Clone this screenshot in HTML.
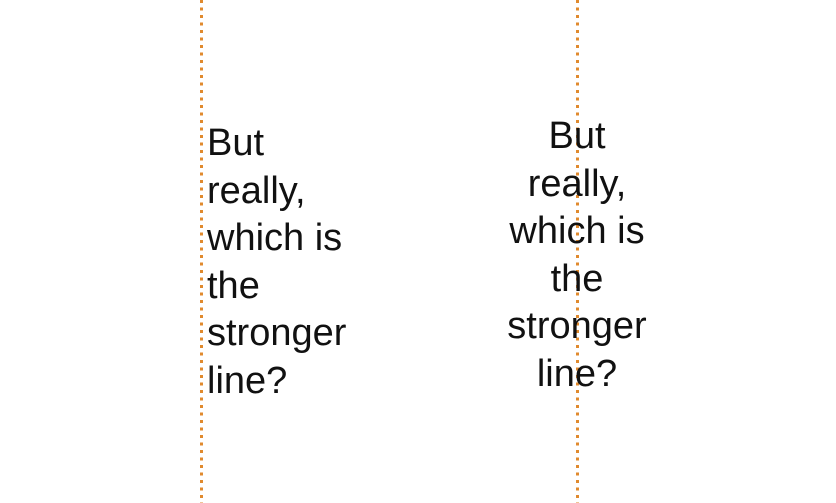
<!DOCTYPE html>
<html><head><meta charset="utf-8"><style>
body{margin:0;width:836px;height:503px;background:#fff;position:relative;overflow:hidden;font-family:"Liberation Sans",sans-serif;}
svg{position:absolute;left:0;top:0;}
.t{position:absolute;font-size:38px;line-height:47.5px;color:#111;}
</style></head><body>
<svg width="836" height="503">
<line x1="201.5" y1="0" x2="201.5" y2="503" stroke="#e08a2e" stroke-width="3" stroke-dasharray="3 4.5"/>
<line x1="577.5" y1="0" x2="577.5" y2="503" stroke="#e08a2e" stroke-width="3" stroke-dasharray="3 4.5"/>
</svg>
<div class="t" style="left:207px;top:120px;width:170px">But<br>really,<br>which is<br>the<br>stronger<br>line?</div>
<div class="t" style="left:477px;top:113px;width:200px;text-align:center">But<br>really,<br>which is<br>the<br>stronger<br>line?</div>
</body></html>
